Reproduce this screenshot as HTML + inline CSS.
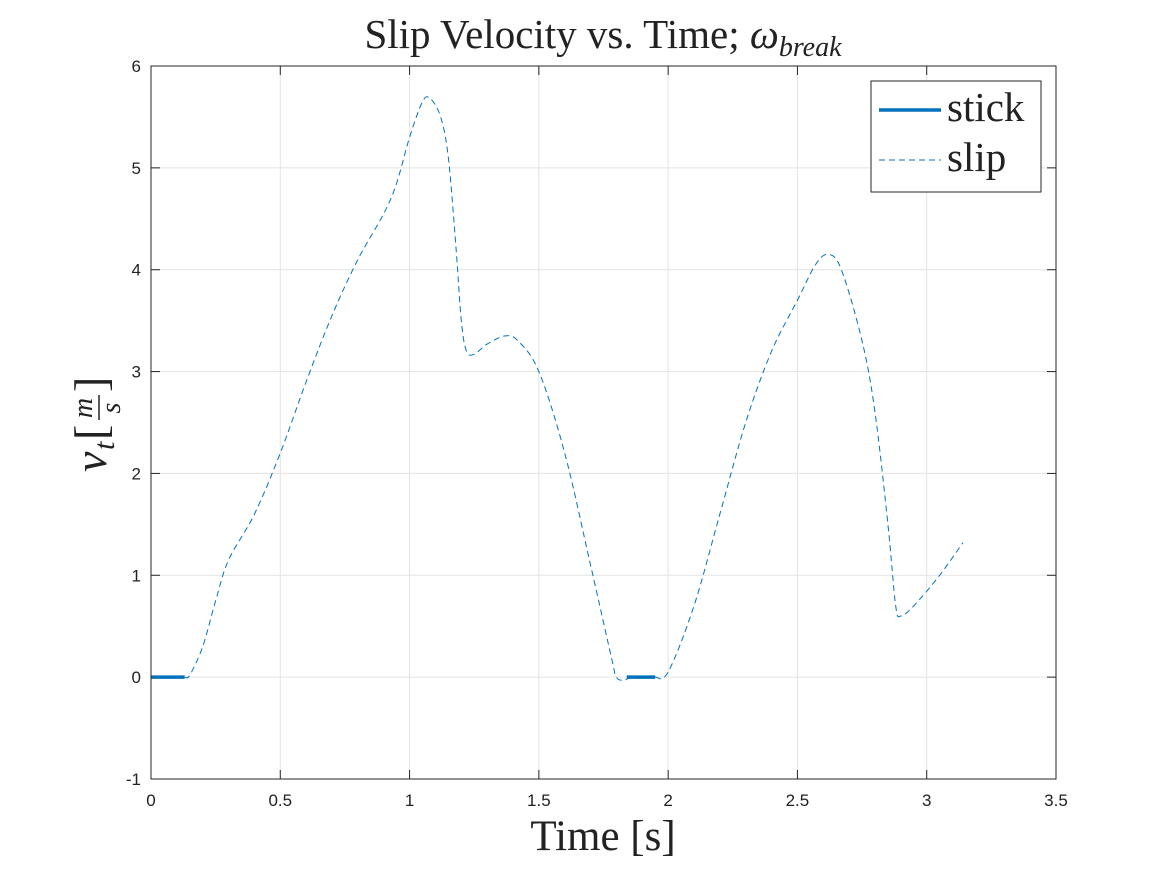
<!DOCTYPE html>
<html><head><meta charset="utf-8"><style>
body{margin:0;background:#fff;}
svg{display:block;}
.tk{font-family:"Liberation Sans",sans-serif;font-size:17px;fill:#222;}
.ser{font-family:"Liberation Serif",serif;fill:#222;}
</style></head><body>
<svg id="chart" width="1167" height="875">
<rect x="0" y="0" width="1167" height="875" fill="#fff"/>
<g id="grid"></g>
<g id="ticks"></g>
<g id="series"></g>
<rect x="151" y="66" width="905" height="713" fill="none" stroke="#262626" stroke-width="1"/>
<text class="ser" x="603" y="48" font-size="41" text-anchor="middle">Slip Velocity vs. Time; <tspan font-style="italic">ω</tspan><tspan font-style="italic" font-size="28" dy="8">break</tspan></text>
<text class="ser" x="603" y="850" font-size="43" text-anchor="middle">Time [s]</text>
<g transform="translate(106,422) rotate(-90)">
<text class="ser" x="-50" y="0" font-size="46" font-style="italic">v</text>
<text class="ser" x="-28" y="8" font-size="30" font-style="italic">t</text>
<text class="ser" x="-18" y="0" font-size="46">[</text>
<text class="ser" x="14" y="-14" font-size="28" font-style="italic" text-anchor="middle">m</text>
<line x1="2" x2="27" y1="-7" y2="-7" stroke="#222" stroke-width="1.5"/>
<text class="ser" x="14" y="14" font-size="28" font-style="italic" text-anchor="middle">s</text>
<text class="ser" x="30" y="0" font-size="46">]</text>
</g>
<g>
<rect x="871" y="81" width="170" height="111" fill="#fff" stroke="#262626"/>
<line x1="879" x2="941" y1="110" y2="110" stroke="#0072BD" stroke-width="3.5"/>
<text class="ser" x="947" y="121" font-size="41">stick</text>
<line x1="879" x2="941" y1="160" y2="160" stroke="#0072BD" stroke-width="1" stroke-dasharray="6,4"/>
<text class="ser" x="947" y="171" font-size="41">slip</text>
</g>
</svg>
<script>
const xTicks=[0,0.5,1,1.5,2,2.5,3,3.5];
const yTicks=[-1,0,1,2,3,4,5,6];
const slipT=[0.13,0.15,0.2,0.25,0.3,0.4,0.5,0.6,0.7,0.8,0.9,0.95,1.0,1.05,1.08,1.12,1.15,1.18,1.2,1.22,1.25,1.3,1.37,1.42,1.5,1.6,1.7,1.78,1.8,1.83,1.85];
const slipV=[0,0.02,0.3,0.75,1.15,1.6,2.2,2.9,3.55,4.1,4.55,4.85,5.3,5.65,5.68,5.5,5.1,4.2,3.5,3.2,3.17,3.27,3.35,3.3,3.0,2.2,1.1,0.2,0,-0.03,0];
const slip2T=[1.95,2.0,2.1,2.2,2.3,2.4,2.5,2.57,2.62,2.67,2.75,2.8,2.85,2.88,2.9,2.95,3.05,3.14];
const slip2V=[0,0.05,0.7,1.6,2.5,3.2,3.7,4.05,4.15,4.0,3.3,2.6,1.5,0.7,0.6,0.7,1.0,1.32];
const stick1T=[0,0.13], stick1V=[0,0];
const stick2T=[1.84,1.95], stick2V=[0,0];
const X=t=>151+t*905/3.5, Y=v=>779-(v+1)*713/7;
const NS='http://www.w3.org/2000/svg';
const g=document.getElementById('grid'), tk=document.getElementById('ticks'), s=document.getElementById('series');
function mk(p,tag,a){const e=document.createElementNS(NS,tag);for(const k in a)e.setAttribute(k,a[k]);p.appendChild(e);return e;}
xTicks.forEach(t=>{
 const l=mk(g,'line',{x1:X(t),x2:X(t),y1:66,y2:779,stroke:'#e3e3e3'});
 
 
 mk(tk,'line',{x1:X(t),x2:X(t),y1:779,y2:770,stroke:'#262626'});
 mk(tk,'line',{x1:X(t),x2:X(t),y1:66,y2:75,stroke:'#262626'});
 const tx=mk(tk,'text',{x:X(t),y:806,'text-anchor':'middle',class:'tk'});tx.textContent=t;
 
 
});
yTicks.forEach(v=>{
 const l=mk(g,'line',{x1:151,x2:1056,y1:Y(v),y2:Y(v),stroke:'#e3e3e3'});
 
 
 mk(tk,'line',{x1:151,x2:160,y1:Y(v),y2:Y(v),stroke:'#262626'});
 mk(tk,'line',{x1:1056,x2:1047,y1:Y(v),y2:Y(v),stroke:'#262626'});
 const tx=mk(tk,'text',{x:141,y:Y(v)+6,'text-anchor':'end',class:'tk'});tx.textContent=v;
 
 
});
function smooth(T,V){const p=T.map((t,i)=>[X(t),Y(V[i])]);let d='M'+p[0];for(let i=0;i<p.length-1;i++){const a=p[i-1]||p[i],b=p[i],c=p[i+1],e=p[i+2]||c;d+=' C'+(b[0]+(c[0]-a[0])/6)+','+(b[1]+(c[1]-a[1])/6)+' '+(c[0]-(e[0]-b[0])/6)+','+(c[1]-(e[1]-b[1])/6)+' '+c;}return d;}
[[slipT,slipV],[slip2T,slip2V]].forEach(([T,V])=>{
 const p=mk(s,'path',{d:smooth(T,V),fill:'none',stroke:'#0072BD','stroke-width':1,'stroke-dasharray':'6,4'});
 
 
});
[[stick1T,stick1V],[stick2T,stick2V]].forEach(([T,V])=>{
 const p=mk(s,'path',{d:smooth(T,V),fill:'none',stroke:'#0072BD','stroke-width':3.5});
 
 
});
</script>
</body></html>
